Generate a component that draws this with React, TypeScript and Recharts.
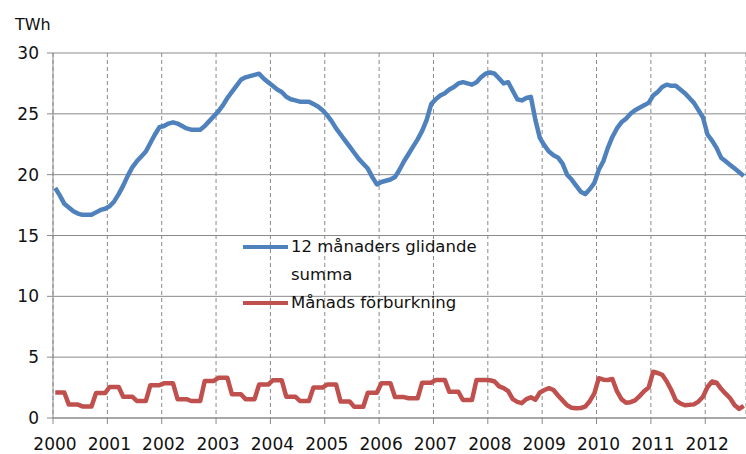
import { CartesianGrid, Line, LineChart, XAxis, YAxis } from "recharts";

const years = ["2000", "2001", "2002", "2003", "2004", "2005", "2006", "2007", "2008", "2009", "2010", "2011", "2012"];

// 12 månaders glidande summa, TWh, jan 2000 - sep 2012
const rolling12 = [
  18.9, 18.3, 17.6, 17.3, 17.0, 16.8, 16.7, 16.7, 16.7, 16.9, 17.1, 17.2,
  17.4, 17.8, 18.4, 19.1, 19.9, 20.6, 21.1, 21.5, 21.9, 22.6, 23.3, 23.9,
  24.0, 24.2, 24.3, 24.2, 24.0, 23.8, 23.7, 23.7, 23.7, 24.0, 24.4, 24.8,
  25.2, 25.7, 26.3, 26.8, 27.3, 27.8, 28.0, 28.1, 28.2, 28.3, 27.9, 27.6,
  27.3, 27.0, 26.8, 26.4, 26.2, 26.1, 26.0, 26.0, 26.0, 25.8, 25.6, 25.3,
  24.9, 24.4, 23.8, 23.3, 22.8, 22.3, 21.8, 21.3, 20.9, 20.5, 19.8, 19.2,
  19.4, 19.5, 19.6, 19.8, 20.4, 21.1, 21.7, 22.3, 22.9, 23.6, 24.5, 25.8,
  26.2, 26.5, 26.7, 27.0, 27.2, 27.5, 27.6, 27.5, 27.4, 27.6, 28.0, 28.3,
  28.4, 28.3, 27.9, 27.5, 27.6, 26.9, 26.2, 26.1, 26.3, 26.4, 24.5, 23.0,
  22.4, 21.9, 21.6, 21.4, 20.9, 20.0, 19.6, 19.1, 18.6, 18.4, 18.8, 19.3,
  20.4, 21.1, 22.2, 23.1, 23.8, 24.3, 24.6, 25.0, 25.3, 25.5, 25.7, 25.9,
  26.5, 26.8, 27.2, 27.4, 27.3, 27.3, 27.0, 26.7, 26.3, 25.9, 25.3, 24.7,
  23.3, 22.8, 22.2, 21.4, 21.1, 20.8, 20.5, 20.2, 19.9,
];

// Månads förburkning, TWh
const monthly = [
  2.1, 2.1, 2.1, 1.1, 1.1, 1.1, 0.95, 0.95, 0.95, 2.05, 2.05, 2.05,
  2.55, 2.55, 2.55, 1.75, 1.75, 1.75, 1.4, 1.4, 1.4, 2.7, 2.7, 2.7,
  2.85, 2.85, 2.85, 1.55, 1.55, 1.55, 1.4, 1.4, 1.4, 3.05, 3.05, 3.05,
  3.3, 3.3, 3.3, 1.95, 1.95, 1.95, 1.55, 1.55, 1.55, 2.75, 2.75, 2.75,
  3.1, 3.1, 3.1, 1.75, 1.75, 1.75, 1.4, 1.4, 1.4, 2.5, 2.5, 2.5,
  2.75, 2.75, 2.75, 1.35, 1.35, 1.35, 0.93, 0.93, 0.93, 2.08, 2.08, 2.08,
  2.85, 2.85, 2.85, 1.72, 1.72, 1.72, 1.62, 1.62, 1.62, 2.9, 2.9, 2.9,
  3.13, 3.13, 3.13, 2.15, 2.15, 2.15, 1.48, 1.48, 1.48, 3.13, 3.13, 3.13,
  3.1, 3.0, 2.6, 2.45, 2.2, 1.55, 1.33, 1.22, 1.55, 1.7, 1.5, 2.1,
  2.3, 2.45, 2.3, 1.85, 1.45, 1.05, 0.85, 0.8, 0.82, 0.93, 1.38, 2.0,
  3.27, 3.15, 3.12, 3.2, 2.2, 1.55, 1.26, 1.3, 1.45, 1.8, 2.2, 2.5,
  3.8, 3.7, 3.55, 3.0, 2.3, 1.45, 1.2, 1.05, 1.08, 1.12, 1.35, 1.75,
  2.55, 3.0, 2.9, 2.4, 2.0, 1.62, 1.05, 0.75, 1.0,
];

const yTicks = [0, 5, 10, 15, 20, 25, 30];

const BLUE = "#4F81BD";
const RED = "#C0504D";
const GRID = "#8a8a8a";
const FONT = "'DejaVu Sans', sans-serif";

const data = rolling12.map((v, i) => ({ i, total: v, month: monthly[i] }));
// year boundaries sit between december and january
const yearTicks = years.map((_, k) => k * 12 - 0.5);

function LegendBox() {
  const row = { display: "flex", alignItems: "flex-start" } as const;
  const swatch = (c: string) => (
    <div style={{ width: 45, height: 28, display: "flex", alignItems: "center", flexShrink: 0 }}>
      <div style={{ width: 45, height: 4.5, background: c }} />
    </div>
  );
  const label = {
    marginLeft: 3,
    width: 215,
    lineHeight: "28px",
    fontSize: 16.5,
    fontFamily: FONT,
    color: "#111",
  } as const;
  return (
    <div style={{ position: "absolute", left: 243, top: 233 }}>
      <div style={row}>
        {swatch(BLUE)}
        <div style={label}>12 månaders glidande summa</div>
      </div>
      <div style={row}>
        {swatch(RED)}
        <div style={label}>Månads förburkning</div>
      </div>
    </div>
  );
}

export default function App() {
  return (
    <div style={{ position: "absolute", left: 0, top: 0, width: 746, height: 454, background: "#fff" }}>
      <div style={{ position: "absolute", left: 15, top: 15, fontFamily: FONT, fontSize: 16, color: "#111" }}>TWh</div>
      <LineChart width={746} height={454} data={data} margin={{ top: 53, right: 0, bottom: 6, left: 0 }}>
        <CartesianGrid vertical={false} stroke={GRID} strokeWidth={1} />
        <CartesianGrid horizontal={false} stroke={GRID} strokeWidth={1} strokeDasharray="4 3" />
        <XAxis
          dataKey="i"
          type="number"
          domain={[-0.5, 152.5]}
          ticks={yearTicks}
          interval={0}
          tickFormatter={(v: number) => years[Math.round((v + 0.5) / 12)]}
          height={30}
          axisLine={{ stroke: GRID, strokeWidth: 1 }}
          tickLine={{ stroke: GRID, strokeWidth: 1 }}
          tickSize={6}
          tickMargin={14}
          tick={{ fill: "#111", fontFamily: FONT, fontSize: 17, dx: 2 }}
          allowDataOverflow
        />
        <YAxis
          domain={[0, 30]}
          ticks={yTicks}
          width={53}
          axisLine={{ stroke: GRID, strokeWidth: 1 }}
          tickLine={{ stroke: GRID, strokeWidth: 1 }}
          tickSize={6}
          tickMargin={8}
          tick={{ fill: "#111", fontFamily: FONT, fontSize: 17 }}
        />
        <Line
          type="linear"
          dataKey="total"
          name="12 månaders glidande summa"
          stroke={BLUE}
          strokeWidth={4.5}
          strokeLinejoin="round"
          dot={false}
          isAnimationActive={false}
        />
        <Line
          type="linear"
          dataKey="month"
          name="Månads förburkning"
          stroke={RED}
          strokeWidth={4.5}
          strokeLinejoin="round"
          dot={false}
          isAnimationActive={false}
        />
      </LineChart>
      <LegendBox />
    </div>
  );
}
